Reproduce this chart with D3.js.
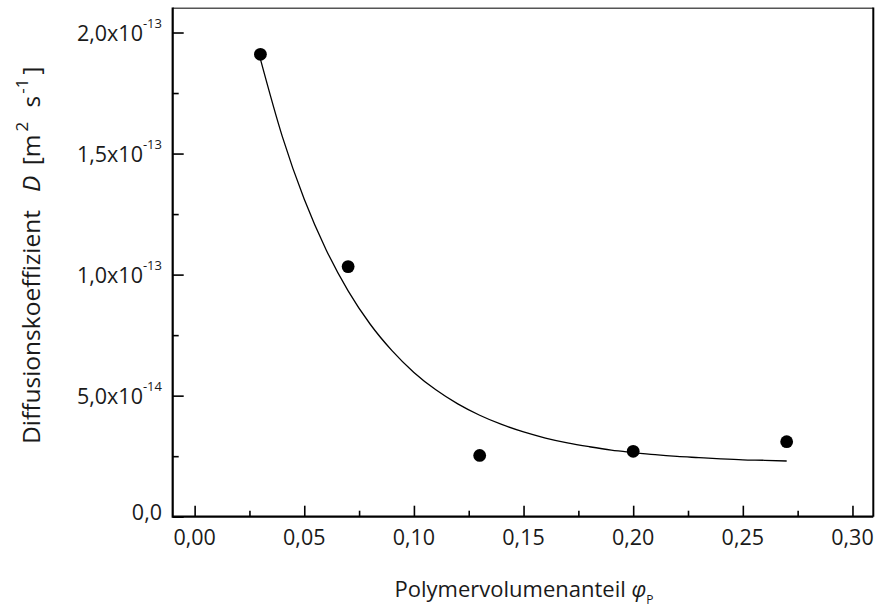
<!DOCTYPE html>
<html><head><meta charset="utf-8">
<script src="https://cdn.jsdelivr.net/npm/d3@7/dist/d3.min.js"></script>
<style>
html,body{margin:0;padding:0;background:#fff;}
text{font-family:"Open Sans","Noto Sans",sans-serif;fill:#1a1a1a;}
</style></head>
<body>
<svg id="chart" width="880" height="611"></svg>
<script>
// ---- data ----
const phi = [0.03, 0.07, 0.13, 0.20, 0.27];
const diff = [1.91e-13, 1.033e-13, 2.53e-14, 2.7e-14, 3.1e-14];
// fitted curve
const fitX = [0.03,0.04,0.05,0.06,0.07,0.08,0.09,0.10,0.11,0.12,0.13,0.14,0.15,0.16,0.17,0.18,0.19,0.20,0.21,0.22,0.23,0.24,0.25,0.26,0.27];
const fitY = [1.89e-13,1.57e-13,1.311e-13,1.102e-13,9.33e-14,7.96e-14,6.86e-14,5.96e-14,5.24e-14,4.66e-14,4.19e-14,3.81e-14,3.50e-14,3.25e-14,3.05e-14,2.89e-14,2.75e-14,2.65e-14,2.56e-14,2.49e-14,2.44e-14,2.39e-14,2.35e-14,2.33e-14,2.30e-14];
const xTicks = [0, 0.05, 0.10, 0.15, 0.20, 0.25, 0.30];
const xTickLabels = ["0,00","0,05","0,10","0,15","0,20","0,25","0,30"];
const xMinor = [0.025, 0.075, 0.125, 0.175, 0.225, 0.275];
const yTicks = [0, 5e-14, 1e-13, 1.5e-13, 2e-13];
const yTickMant = ["0,0","5,0x10","1,0x10","1,5x10","2,0x10"];
const yTickExp = ["","-14","-13","-13","-13"];
const yMinor = [2.5e-14, 7.5e-14, 1.25e-13, 1.75e-13];

// ---- layout ----
const L = 172.7, R = 873.3, T = 8.3, B = 516.7;
const svg = d3.select("#chart");
const x = d3.scaleLinear().domain([-0.01, 0.3095]).range([L, R]);
const y = d3.scaleLinear().domain([0, 2.1e-13]).range([B, T]);

// frame
svg.append("line").attr("x1",L).attr("x2",R).attr("y1",T).attr("y2",T).attr("stroke","#555").attr("stroke-width",1.6);
svg.append("line").attr("x1",R).attr("x2",R).attr("y1",T-0.8).attr("y2",B).attr("stroke","#000").attr("stroke-width",2);

// axes (inward ticks)
const gx = svg.append("g").attr("transform",`translate(0,${B})`)
  .call(d3.axisBottom(x).tickValues(xTicks).tickSize(-11).tickFormat(""));
const gxm = svg.append("g").attr("transform",`translate(0,${B})`)
  .call(d3.axisBottom(x).tickValues(xMinor).tickSize(-6).tickFormat(""));
const gy = svg.append("g").attr("transform",`translate(${L},0)`)
  .call(d3.axisLeft(y).tickValues(yTicks).tickSize(-11).tickFormat(""));
const gym = svg.append("g").attr("transform",`translate(${L},0)`)
  .call(d3.axisLeft(y).tickValues(yMinor).tickSize(-6).tickFormat(""));
[gx,gxm,gy,gym].forEach(g=>{
  g.selectAll("line").attr("stroke","#000").attr("stroke-width",1.6);
  g.select(".domain").attr("stroke","#000").attr("stroke-width",2.2);
});
gxm.select(".domain").remove(); gym.select(".domain").remove();
gx.select(".domain").attr("d",`M${L},0H${R}`);
gy.select(".domain").attr("d",`M0,${B+1}V${T-0.8}`);

// x tick labels
svg.append("g").selectAll("text").data(xTicks).join("text")
  .attr("x",d=>x(d)).attr("y",B+28.5).attr("text-anchor","middle")
  .attr("font-size",21.5).attr("font-weight",400)
  .text((d,i)=>xTickLabels[i]);

// y tick labels
const yl = svg.append("g").selectAll("text").data(yTicks).join("text")
  .attr("x",162).attr("y",d=>y(d)+(d===0?3:8)).attr("text-anchor","end")
  .attr("font-size",21.5).attr("font-weight",400);
yl.append("tspan").text((d,i)=>yTickMant[i]);
yl.append("tspan").attr("font-size",13).attr("dy",-13).text((d,i)=>yTickExp[i]);

// fit curve
svg.append("path").datum(fitX.map((v,i)=>[v,fitY[i]]))
  .attr("d",d3.line().x(d=>x(d[0])).y(d=>y(d[1])).curve(d3.curveMonotoneX))
  .attr("fill","none").attr("stroke","#000").attr("stroke-width",1.3);

// points
svg.append("g").selectAll("circle").data(phi).join("circle")
  .attr("cx",d=>x(d)).attr("cy",(d,i)=>y(diff[i])).attr("r",6.4).attr("fill","#000");

// x title
const xt = svg.append("text").attr("x",524).attr("y",597).attr("text-anchor","middle")
  .attr("font-size",22).attr("font-weight",400);
xt.append("tspan").text("Polymervolumenanteil ");
xt.append("tspan").attr("font-style","italic").text("φ");
xt.append("tspan").attr("font-size",12).attr("dy",7).text("P");

// y title
const yt = svg.append("text").attr("transform","translate(40,444) rotate(-90)")
  .attr("text-anchor","start").attr("font-size",24.5).attr("font-weight",400);
yt.append("tspan").text("Diffusionskoeffizient");
yt.append("tspan").attr("dx",18).attr("font-style","italic").text("D");
yt.append("tspan").attr("dx",4).text(" [m");
yt.append("tspan").attr("font-size",17).attr("dx",3).attr("dy",-12).text("2");
yt.append("tspan").attr("dx",8).attr("dy",12).text(" s");
yt.append("tspan").attr("font-size",17).attr("dx",2).attr("dy",-12).text("-1");
yt.append("tspan").attr("dx",4).attr("dy",12).text("]");
</script>
</body></html>
